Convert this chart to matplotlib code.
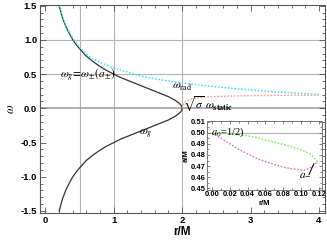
import matplotlib.pyplot as plt
from matplotlib.ticker import MultipleLocator, FormatStrFormatter

plt.rcParams['mathtext.fontset'] = 'stix'
plt.rcParams['font.family'] = ['Liberation Sans', 'DejaVu Sans']

# omega_g curve (black): upper and lower branch
r_g = [0.2, 0.25, 0.3, 0.35, 0.4, 0.45, 0.5, 0.6, 0.7, 0.8, 0.9, 1.0, 1.1, 1.2,
       1.3, 1.4, 1.5, 1.6, 1.7, 1.8, 1.9, 1.95, 1.98, 1.995, 2.0]
w_g_up = [1.5, 1.32, 1.19, 1.09, 1.0, 0.93, 0.87, 0.76, 0.68, 0.61, 0.55, 0.5, 0.45, 0.41,
          0.37, 0.33, 0.29, 0.25, 0.21, 0.17, 0.115, 0.08, 0.05, 0.025, 0.0]
w_g_low = [-1.5, -1.32, -1.19, -1.09, -1.0, -0.93, -0.87, -0.76, -0.68, -0.61, -0.55, -0.5, -0.45, -0.41,
           -0.37, -0.33, -0.29, -0.25, -0.21, -0.17, -0.115, -0.08, -0.05, -0.025, 0.0]

# omega_rad (cyan dotted)
r_rad = [0.2, 0.25, 0.3, 0.4, 0.5, 0.6, 0.7, 0.8, 0.9, 1.0, 1.2, 1.4, 1.6, 1.8, 2.0,
         2.25, 2.5, 2.75, 3.0, 3.25, 3.5, 3.75, 4.0]
w_rad = [1.5, 1.33, 1.2, 1.02, 0.89, 0.79, 0.72, 0.67, 0.63, 0.59, 0.53, 0.47, 0.43, 0.40, 0.37,
         0.34, 0.315, 0.29, 0.27, 0.25, 0.232, 0.217, 0.205]

# sqrt(sigma) omega_static (red dotted)
r_st = [2.0, 2.02, 2.05, 2.1, 2.2, 2.3, 2.5, 2.75, 3.0, 3.5, 4.0]
w_st = [0.0, 0.06, 0.095, 0.125, 0.15, 0.162, 0.172, 0.18, 0.185, 0.19, 0.195]

# inset: a/M vs r/M for the two branches
r_in = [0.0, 0.01, 0.02, 0.03, 0.04, 0.05, 0.06, 0.07, 0.08, 0.09, 0.10, 0.105, 0.11, 0.115, 0.118]
a_green = [0.4995, 0.4993, 0.4988, 0.4981, 0.4972, 0.4955, 0.4935, 0.4915, 0.4895, 0.4872,
           0.4845, 0.483, 0.481, 0.477, 0.4738]
a_magenta = [0.4995, 0.495, 0.490, 0.485, 0.481, 0.477, 0.474, 0.4715, 0.469, 0.4675,
             0.4665, 0.4665, 0.4685, 0.471, 0.4738]

fig = plt.figure(figsize=(3.27, 2.43), dpi=100)
ax = fig.add_axes([40 / 327, 1 - 213 / 243, 285 / 327, 208 / 243])

for xv in [0.5, 1, 2]:
    ax.axvline(xv, color='#b4b4b4', lw=0.8, zorder=0)
for yv in [0.5, 1.0]:
    ax.axhline(yv, color='#b4b4b4', lw=0.8, zorder=0)
ax.axhline(0, color='#999999', lw=1.1, zorder=0)

ax.plot(r_g, w_g_up, color='#333333', lw=0.9)
ax.plot(r_g, w_g_low, color='#333333', lw=0.9)
ax.plot(r_rad, w_rad, color='#33e6f0', lw=1.0, ls=(0, (1.2, 1.2)))
ax.plot(r_st, w_st, color='#ff9a9a', lw=1.0, ls=(0, (1.2, 1.2)))

ax.text(0.62, 0.5, r'$\omega_g\!=\!\omega_{\pm}(a_{\pm})$', fontsize=8.3, ha='center', va='center')
ax.text(2.0, 0.32, r'$\omega_{\rm rad}$', fontsize=8.3, ha='center', va='center')
ax.text(1.47, -0.38, r'$\omega_g$', fontsize=8.3, ha='center', va='center')
ax.text(2.01, 0.07, r'$\sqrt{\sigma}\ \omega_{\mathbf{static}}$', fontsize=8.3, ha='left', va='center')

ax.set_xlim(-0.08, 4.09)
ax.set_ylim(-1.53, 1.51)
ax.xaxis.set_major_locator(MultipleLocator(1))
ax.xaxis.set_minor_locator(MultipleLocator(0.2))
ax.yaxis.set_major_locator(MultipleLocator(0.5))
ax.yaxis.set_minor_locator(MultipleLocator(0.1))
ax.yaxis.set_major_formatter(FormatStrFormatter('%.1f'))
ax.tick_params(which='both', direction='in', top=True, right=True, color='#555555', width=0.6)
ax.tick_params(which='major', length=4, labelsize=6.8, pad=2)
ax.tick_params(which='minor', length=2)
for lab in ax.get_xticklabels() + ax.get_yticklabels():
    lab.set_fontweight('bold')
for sp in ax.spines.values():
    sp.set_color('#555555')
    sp.set_linewidth(0.8)
ax.set_xlabel('r/M', fontsize=8.5, fontweight='bold', labelpad=1)
ax.set_ylabel(r'$\omega$', fontsize=9, labelpad=3)

# inset
axi = fig.add_axes([207 / 327, 1 - 190 / 243, 115 / 327, 69 / 243])
axi.axhline(0.5, color='#b4b4b4', lw=0.8, zorder=0)
axi.plot(r_in, a_green, color='#77ee55', lw=1.0, ls=(0, (1.2, 1.2)))
axi.plot(r_in, a_magenta, color='#cc77cc', lw=1.0, ls=(0, (1.2, 1.2)))
axi.text(-0.001, 0.5003, r'$a_0$=1/2)', fontsize=7.5, family='Liberation Serif',
         ha='left', va='center')
axi.annotate('', xy=(0.1155, 0.4745), xytext=(0.1075, 0.4598),
             arrowprops=dict(arrowstyle='-', color='black', lw=0.7))
axi.text(0.1045, 0.4625, r'$a_{-}$', fontsize=8, ha='center', va='center')
axi.set_xlim(-0.0056, 0.1234)
axi.set_ylim(0.4485, 0.5105)
axi.xaxis.set_major_locator(MultipleLocator(0.02))
axi.xaxis.set_minor_locator(MultipleLocator(0.01))
axi.yaxis.set_major_locator(MultipleLocator(0.01))
axi.yaxis.set_minor_locator(MultipleLocator(0.005))
axi.xaxis.set_major_formatter(FormatStrFormatter('%.2f'))
axi.yaxis.set_major_formatter(FormatStrFormatter('%.2f'))
axi.tick_params(which='both', direction='in', top=True, right=True, color='#555555', width=0.5)
axi.tick_params(which='major', length=2.5, labelsize=5.5, pad=1)
axi.tick_params(which='minor', length=1.3)
for lab in axi.get_xticklabels() + axi.get_yticklabels():
    lab.set_fontweight('bold')
for sp in axi.spines.values():
    sp.set_color('#777777')
    sp.set_linewidth(0.7)
axi.set_xlabel('r/M', fontsize=5.5, fontweight='bold', labelpad=1)
axi.set_ylabel('a/M', fontsize=5.5, fontweight='bold', labelpad=1)

fig.savefig('out.png', dpi=100)
